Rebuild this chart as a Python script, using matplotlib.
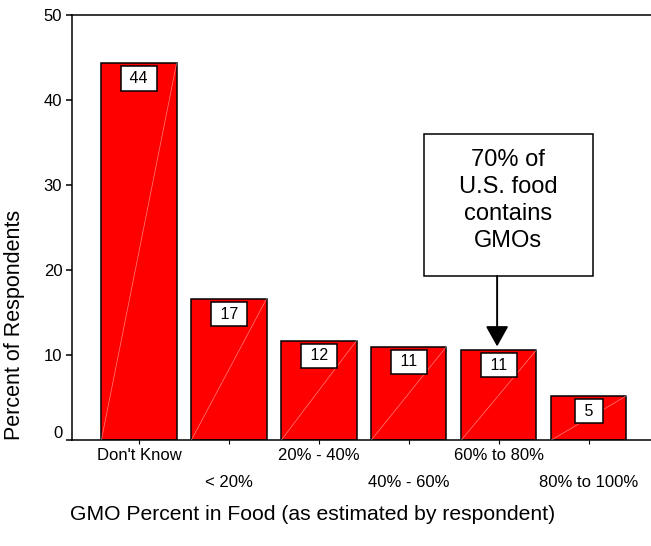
import matplotlib
matplotlib.use("Agg")
import matplotlib.pyplot as plt
import matplotlib.transforms as mtransforms
from matplotlib.patches import Rectangle

plt.rcParams['font.family'] = ['Liberation Sans', 'DejaVu Sans']

categories = ["Don't Know", "< 20%", "20% - 40%", "40% - 60%", "60% to 80%", "80% to 100%"]
percents = [44.3, 16.6, 11.7, 11.0, 10.6, 5.2]
yticks = [0, 10, 20, 30, 40, 50]
callout_text = "70% of\nU.S. food\ncontains\nGMOs"
callout_index = 4

fig = plt.figure(figsize=(6.51, 5.46), dpi=100)
ax = fig.add_axes([0.1106, 0.1941, 0.8894, 0.7784])

x = list(range(len(categories)))
bars = ax.bar(x, percents, width=0.835, color='#ff0000', edgecolor='black', linewidth=1.1, zorder=2)

# faint diagonal highlight across each bar
for b in bars:
    x0, y0 = b.get_x(), b.get_y()
    ax.plot([x0, x0 + b.get_width()], [y0, y0 + b.get_height()],
            color='white', lw=0.5, alpha=0.5, zorder=3)

# value boxes at top of each bar
for b, v in zip(bars, percents):
    ax.annotate(f" {v:.0f} ", xy=(b.get_x() + b.get_width() / 2, b.get_height()),
                xytext=(0, -11), textcoords='offset points',
                ha='center', va='center', fontsize=11.5, zorder=5,
                bbox=dict(boxstyle='square,pad=0.3', fc='white', ec='black', lw=1.1))

ax.set_xlim(-0.744, 5.69)
ax.set_ylim(0, 50)
ax.set_yticks(yticks)
ax.set_xticks(x)
ax.set_xticklabels(categories, fontsize=12)
ax.tick_params(axis='y', direction='out', length=4, width=1.1, pad=3, labelsize=12)
ax.tick_params(axis='x', direction='out', length=3, width=0.8)

for i, t in enumerate(ax.xaxis.get_major_ticks()):
    t.set_pad(3 if i % 2 == 0 else 22.5)

# lift the zero label off the baseline
zero_lbl = ax.get_yticklabels()[0]
zero_lbl.set_transform(zero_lbl.get_transform() + mtransforms.ScaledTranslation(0, 8 / 100, fig.dpi_scale_trans))

for s in ('left', 'top', 'bottom'):
    ax.spines[s].set_linewidth(1.1)
ax.spines['right'].set_visible(False)

ax.set_ylabel("Percent of Respondents", fontsize=15.5)
ax.yaxis.set_label_coords(-0.081, 0.27)
ax.set_xlabel("GMO Percent in Food (as estimated by respondent)", fontsize=15.2)
ax.xaxis.set_label_coords(0.415, -0.152)

# callout box with arrow pointing at the 60%-80% bar
bx0, bx1, by0, by1 = 3.167, 5.044, 19.3, 36.0
ax.add_patch(Rectangle((bx0, by0), bx1 - bx0, by1 - by0, fc='white', ec='black', lw=1.1, zorder=4))
ax.text((bx0 + bx1) / 2, (by0 + by1) / 2 + 0.5, callout_text, ha='center', va='center',
        fontsize=17, linespacing=1.3, zorder=5)
ax.annotate("", xy=(callout_index - 0.02, percents[callout_index]), xytext=(callout_index - 0.02, by0),
            arrowprops=dict(arrowstyle='-|>,head_width=0.7,head_length=1.25', color='black', lw=1.4,
                            shrinkA=0, shrinkB=2.5),
            zorder=5)

fig.savefig("out.png", dpi=100)
